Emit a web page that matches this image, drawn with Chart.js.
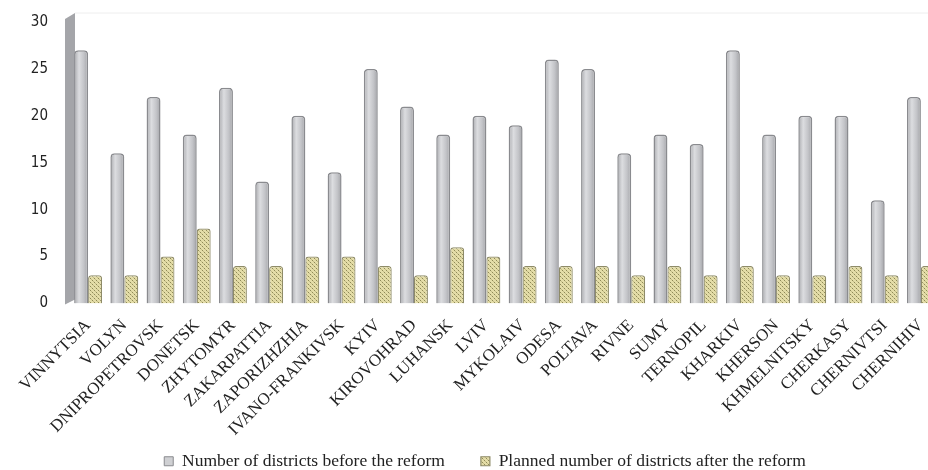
<!DOCTYPE html>
<html>
<head>
<meta charset="utf-8">
<script src="https://cdn.jsdelivr.net/npm/chart.js@4.4.1/dist/chart.umd.min.js"></script>
<style>
  html, body { margin: 0; padding: 0; background: #fff; overflow: hidden; }
  #wrap { width: 1000px; height: 480px; }
</style>
</head>
<body>
<div id="wrap"><canvas id="districts-chart" width="1000" height="480"></canvas></div>
<script>
const regions = ['VINNYTSIA', 'VOLYN', 'DNIPROPETROVSK', 'DONETSK', 'ZHYTOMYR', 'ZAKARPATTIA',
    'ZAPORIZHZHIA', 'IVANO-FRANKIVSK', 'KYIV', 'KIROVOHRAD', 'LUHANSK', 'LVIV', 'MYKOLAIV',
    'ODESA', 'POLTAVA', 'RIVNE', 'SUMY', 'TERNOPIL', 'KHARKIV', 'KHERSON', 'KHMELNITSKY',
    'CHERKASY', 'CHERNIVTSI', 'CHERNIHIV'];
const beforeReform = [27, 16, 22, 18, 23, 13, 20, 14, 25, 21, 18, 20, 19, 26, 25, 16, 18, 17, 27, 18, 20, 20, 11, 22];
const afterReform = [3, 3, 5, 8, 4, 4, 5, 5, 4, 3, 6, 5, 4, 4, 4, 3, 4, 3, 4, 3, 3, 4, 3, 4];
const yTicks = [0, 5, 10, 15, 20, 25, 30];

const catPct = 0.77;

// small checkered fill for the "after" bars
function makeHatch() {
    let c = document.createElement('canvas');
    c.width = 4; c.height = 4;
    let g = c.getContext('2d');
    g.fillStyle = '#e4dda8';
    g.fillRect(0, 0, 4, 4);
    g.fillStyle = '#8f8a58';
    g.fillRect(0, 0, 1, 1);
    g.fillRect(2, 2, 1, 1);
    g.fillStyle = '#c4bd88';
    g.fillRect(1, 1, 1, 1);
    g.fillRect(3, 3, 1, 1);
    return g.createPattern(c, 'repeat');
}
const hatch = makeHatch();

// cylinder-like shading for the grey bars
function greyFill(context) {
    const chart = context.chart;
    const xs = chart.scales.x;
    if (!xs || context.dataIndex === undefined || !xs.width) return '#c6c7cb';
    const w = xs.width / regions.length * catPct / 2;
    const right = xs.getPixelForValue(context.dataIndex);
    const left = right - w;
    const g = chart.ctx.createLinearGradient(left, 0, right, 0);
    g.addColorStop(0, '#a9aaae');
    g.addColorStop(0.35, '#dcdde0');
    g.addColorStop(0.7, '#c3c4c8');
    g.addColorStop(1, '#a2a3a7');
    return g;
}

// grey side wall left of the plot
const sideWall = {
    id: 'sideWall',
    beforeDatasetsDraw(chart) {
        const a = chart.chartArea;
        const ctx = chart.ctx;
        ctx.save();
        ctx.fillStyle = '#a4a5a9';
        ctx.beginPath();
        ctx.moveTo(a.left - 5, a.top - 3);
        ctx.lineTo(a.left + 5, a.top - 9);
        ctx.lineTo(a.left + 5, a.bottom - 4);
        ctx.lineTo(a.left - 5, a.bottom + 1);
        ctx.closePath();
        ctx.fill();
        ctx.strokeStyle = '#eeeeee';
        ctx.lineWidth = 1;
        ctx.beginPath();
        ctx.moveTo(a.left + 5, a.top - 9);
        ctx.lineTo(a.right, a.top - 9);
        ctx.stroke();
        ctx.restore();
    }
};

new Chart(document.getElementById('districts-chart'), {
    type: 'bar',
    data: {
        labels: regions,
        datasets: [
            {
                label: 'Number of districts before the reform',
                data: beforeReform,
                backgroundColor: greyFill,
                borderColor: '#8a8b8f',
                borderWidth: 1.5,
                borderRadius: { topLeft: 4, topRight: 4 },
                borderSkipped: 'bottom'
            },
            {
                label: 'Planned number of districts after the reform',
                data: afterReform,
                backgroundColor: hatch,
                borderColor: '#8e8b68',
                borderWidth: 1.2,
                borderRadius: { topLeft: 3, topRight: 3 },
                borderSkipped: 'bottom'
            }
        ]
    },
    options: {
        responsive: false,
        animation: false,
        layout: { padding: { left: 31, right: 61, top: 22, bottom: 0 } },
        datasets: {
            bar: { categoryPercentage: catPct, barPercentage: 1.0 }
        },
        scales: {
            x: {
                grid: { display: false },
                border: { display: false },
                ticks: {
                    autoSkip: false,
                    minRotation: 45,
                    maxRotation: 45,
                    padding: 4,
                    color: '#222',
                    font: { family: "'Liberation Serif', 'Times New Roman', serif", size: 17 }
                },
                afterFit(scale) {
                    scale.height = 113;
                    // rotated labels run past the legend top; don't clip them
                    scale._computeLabelArea = () => undefined;
                }
            },
            y: {
                min: 0,
                max: 30,
                afterBuildTicks(scale) { scale.ticks = yTicks.map(v => ({ value: v })); },
                grid: { display: false, drawTicks: false },
                border: { display: false },
                ticks: {
                    padding: 22,
                    color: '#222',
                    font: { family: "'Liberation Sans Narrow', 'DejaVu Sans Condensed', sans-serif", size: 15 }
                },
                afterFit(scale) {
                    scale.width = 39;
                    scale.paddingTop = 0;
                    scale.paddingBottom = 0;
                }
            }
        },
        plugins: {
            legend: {
                position: 'bottom',
                labels: {
                    boxWidth: 9,
                    boxHeight: 9,
                    padding: 36,
                    color: '#222',
                    font: { family: "'Liberation Serif', 'Times New Roman', serif", size: 17.5 },
                    generateLabels(chart) {
                        let items = Chart.defaults.plugins.legend.labels.generateLabels(chart);
                        items[0].fillStyle = '#cfd0d3';
                        items[0].strokeStyle = '#8a8b8f';
                        items[0].lineWidth = 1;
                        return items;
                    }
                }
            },
            tooltip: { enabled: false }
        }
    },
    plugins: [sideWall]
});
</script>
</body>
</html>
